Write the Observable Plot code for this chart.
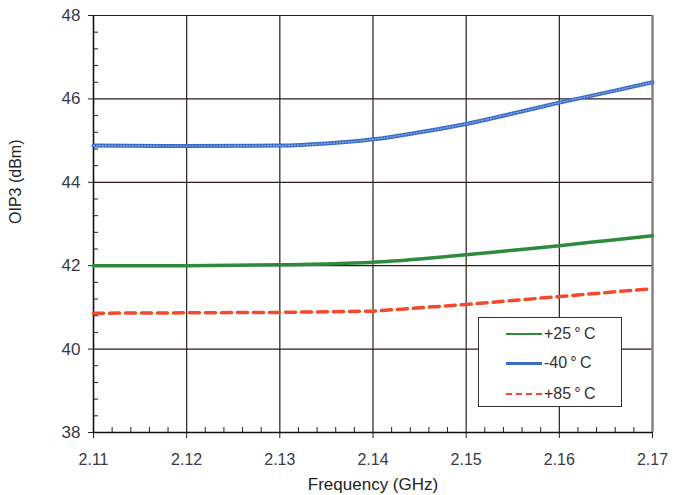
<!DOCTYPE html>
<html>
<head>
<meta charset="utf-8">
<script src="https://cdn.jsdelivr.net/npm/d3@7"></script>
<script src="https://cdn.jsdelivr.net/npm/@observablehq/plot@0.6"></script>
<style>
  body { margin: 0; background: #fff; font-family: "Liberation Sans", Arial, sans-serif; }
  #wrap { position: relative; width: 673px; height: 495px; }
  #legend { position: absolute; left: 478px; top: 317px; width: 144px; height: 90px;
    border: 1px solid #333; background: #fff; box-sizing: border-box; }
  .row { position: absolute; left: 0; height: 20px; display: flex; align-items: center; }
  .sw { width: 36px; height: 0; margin-left: 27px; margin-right: 2px; }
  .lab { font-size: 16px; color: #333; }
</style>
</head>
<body>
<div id="wrap"></div>
<script>
const freq = [2.11, 2.12, 2.13, 2.135, 2.14, 2.145, 2.15, 2.155, 2.16, 2.165, 2.17];
const oip3Minus40 = [44.88, 44.87, 44.88, 44.93, 45.03, 45.2, 45.4, 45.65, 45.91, 46.15, 46.4];
const oip3Plus25  = [42.0, 42.0, 42.02, 42.04, 42.08, 42.16, 42.26, 42.37, 42.48, 42.6, 42.72];
const freqHot = [2.11, 2.12, 2.13, 2.14, 2.15, 2.16, 2.17];
const oip3Plus85 = [40.86, 40.87, 40.88, 40.91, 41.07, 41.26, 41.45];
const seriesNames = ["+25\u2009\u00b0\u2009C", "-40\u2009\u00b0\u2009C", "+85\u2009\u00b0\u2009C"];
const seriesColors = ["#2e8b3e", "#3b6cc8", "#f24a2c"];
const xTicks = [2.11, 2.12, 2.13, 2.14, 2.15, 2.16, 2.17];
const yTicks = [38, 40, 42, 44, 46, 48];

const xMinor = d3.range(0, 31).map(i => +(2.11 + i * 0.002).toFixed(3)).filter(v => !xTicks.some(t => Math.abs(t - v) < 1e-6));
const yMinor = d3.range(0, 26).map(i => +(38 + i * 0.4).toFixed(1)).filter(v => !yTicks.includes(v));

const cold = freq.map((f, i) => ({f, v: oip3Minus40[i]}));
const room = freq.map((f, i) => ({f, v: oip3Plus25[i]}));
const hot = freqHot.map((f, i) => ({f, v: oip3Plus85[i]}));

const plot = Plot.plot({
  width: 673, height: 495,
  marginLeft: 93, marginRight: 21, marginTop: 15, marginBottom: 63,
  style: {fontFamily: "Liberation Sans, Arial, sans-serif", fontSize: "15px", color: "#333", background: "#fff"},
  x: {domain: [2.11, 2.17]},
  y: {domain: [38, 48]},
  marks: [
    Plot.gridX(xTicks.slice(1, -1), {stroke: "#2a1c1c", strokeOpacity: 1, strokeWidth: 1.2}),
    Plot.gridY(yTicks.slice(1), {stroke: "#2a1c1c", strokeOpacity: 1, strokeWidth: 1.2}),
    Plot.ruleX([2.17], {stroke: "#8a8080", strokeWidth: 2.5}),
    Plot.axisY(yMinor, {tickSize: -5, text: null, label: null, stroke: "#222"}),
    Plot.axisX(xMinor, {tickSize: -5, text: null, label: null, stroke: "#222"}),
    Plot.axisY(yTicks, {tickSize: 5, tickPadding: 8, fill: "#3a3a48", fontSize: 17, label: null, stroke: "#222"}),
    Plot.axisX(xTicks, {tickSize: 6, tickPadding: 15, fill: "#3a3a48", fontSize: 16, label: null, tickFormat: d3.format(".2f"), stroke: "#222"}),
    Plot.ruleX([2.11], {stroke: "#111", strokeWidth: 1.6}),
    Plot.ruleY([38], {stroke: "#111", strokeWidth: 1.6}),
    Plot.line(room, {x: "f", y: "v", stroke: seriesColors[0], strokeWidth: 3.5, curve: "monotone-x"}),
    Plot.line(cold, {x: "f", y: "v", stroke: seriesColors[1], strokeWidth: 4, curve: "monotone-x"}),
    Plot.line(cold, {x: "f", y: "v", stroke: "#8fb0e8", strokeWidth: 1.2, strokeDasharray: "1,2", curve: "monotone-x"}),
    Plot.line(hot, {x: "f", y: "v", stroke: seriesColors[2], strokeWidth: 3.5, strokeDasharray: "10,6"}),
    Plot.text(["OIP3 (dBm)"], {frameAnchor: "left", dx: -78, rotate: -90, fontSize: 16, fill: "#222"}),
    Plot.text(["Frequency (GHz)"], {frameAnchor: "bottom", dy: 57, fontSize: 17, fill: "#222"})
  ]
});

const wrap = document.getElementById("wrap");
wrap.appendChild(plot);

const legend = document.createElement("div");
legend.id = "legend";
const styles = ["solid", "solid", "dashed"];
const tops = [6, 35, 66];
seriesNames.forEach((name, i) => {
  const row = document.createElement("div");
  row.className = "row";
  row.style.top = tops[i] + "px";
  const sw = document.createElement("div");
  sw.className = "sw";
  sw.style.borderTop = `${i === 1 ? 3 : 2.5}px ${styles[i]} ${seriesColors[i]}`;
  const lab = document.createElement("span");
  lab.className = "lab";
  lab.textContent = name;
  row.appendChild(sw);
  row.appendChild(lab);
  legend.appendChild(row);
});
wrap.appendChild(legend);
</script>
</body>
</html>
